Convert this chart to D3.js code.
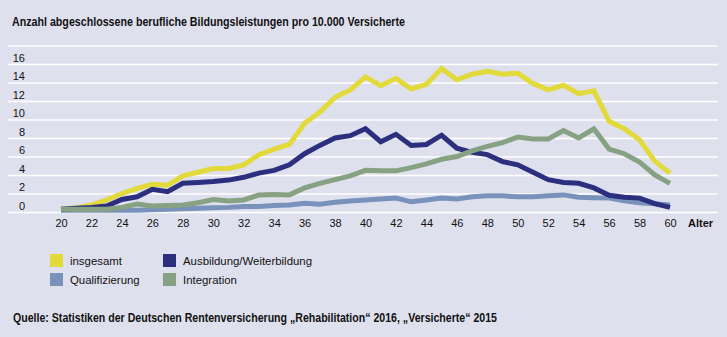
<!DOCTYPE html>
<html>
<head>
<meta charset="utf-8">
<script src="https://cdn.jsdelivr.net/npm/d3@7"></script>
<style>
  html, body { margin: 0; padding: 0; background: #dfe0ee; }
  svg { display: block; }
</style>
</head>
<body>
<div class="chart"></div>
<script>
const title = "Anzahl abgeschlossene berufliche Bildungsleistungen pro 10.000 Versicherte";
const source = "Quelle: Statistiken der Deutschen Rentenversicherung \u201eRehabilitation\u201c 2016, \u201eVersicherte\u201c 2015";

const ages = [20, 21, 22, 23, 24, 25, 26, 27, 28, 29, 30, 31, 32, 33, 34, 35, 36, 37, 38, 39, 40,
  41, 42, 43, 44, 45, 46, 47, 48, 49, 50, 51, 52, 53, 54, 55, 56, 57, 58, 59, 60];
const xTicks = [20, 22, 24, 26, 28, 30, 32, 34, 36, 38, 40, 42, 44, 46, 48, 50, 52, 54, 56, 58, 60];
const yTicks = [0, 2, 4, 6, 8, 10, 12, 14, 16, 18];

const insgesamt = [0.3, 0.45, 0.75, 1.3, 2.0, 2.55, 3.0, 2.9, 3.9, 4.3,
  4.7, 4.7, 5.1, 6.2, 6.8, 7.3, 9.6, 10.8, 12.4, 13.2,
  14.6, 13.65, 14.45, 13.3, 13.8, 15.5, 14.3, 14.9, 15.2, 14.9,
  15.0, 13.9, 13.2, 13.7, 12.8, 13.1, 9.8, 9.0, 7.8, 5.5, 4.2];
const ausbildung = [0.3, 0.4, 0.5, 0.65, 1.35, 1.65, 2.45, 2.2, 3.1, 3.2,
  3.3, 3.45, 3.75, 4.2, 4.5, 5.1, 6.3, 7.2, 8.0, 8.25,
  9.0, 7.6, 8.4, 7.2, 7.3, 8.3, 6.9, 6.45, 6.2, 5.45,
  5.1, 4.3, 3.5, 3.2, 3.1, 2.6, 1.8, 1.6, 1.5, 0.9, 0.5];
const qualifizierung = [0.2, 0.2, 0.2, 0.2, 0.2, 0.2, 0.25, 0.3, 0.35, 0.4,
  0.45, 0.5, 0.6, 0.6, 0.7, 0.75, 0.95, 0.85, 1.05, 1.2,
  1.3, 1.4, 1.5, 1.1, 1.3, 1.5, 1.4, 1.65, 1.75, 1.75,
  1.65, 1.65, 1.75, 1.85, 1.6, 1.55, 1.5, 1.2, 1.0, 0.9, 0.75];
const integration = [0.3, 0.3, 0.3, 0.3, 0.5, 0.85, 0.65, 0.7, 0.75, 1.0,
  1.35, 1.2, 1.3, 1.85, 1.9, 1.85, 2.6, 3.1, 3.5, 3.9,
  4.5, 4.45, 4.45, 4.8, 5.2, 5.7, 6.0, 6.6, 7.1, 7.5,
  8.1, 7.9, 7.9, 8.8, 8.0, 9.0, 6.8, 6.3, 5.4, 4.0, 3.1];

// drawing order: last one ends up on top
const series = [
  { name: "insgesamt", values: insgesamt, color: "#e2d93a" },
  { name: "Qualifizierung", values: qualifizierung, color: "#7892bb" },
  { name: "Ausbildung/Weiterbildung", values: ausbildung, color: "#2c2f7e" },
  { name: "Integration", values: integration, color: "#87a283" },
];

const legendRows = [
  [series[0], series[2]],
  [series[1], series[3]],
];

const width = 727;
const height = 337;
const bg = "#dfe0ee";
const font = "'Liberation Sans', Arial, sans-serif";
const fontNarrow = "'Liberation Sans Narrow', 'Arial Narrow', 'Liberation Sans', sans-serif";

const x = d3.scaleLinear().domain([20, 60]).range([61, 670]);
const y = d3.scaleLinear().domain([0, 18]).range([212, 45.5]);

const svg = d3.select(".chart").append("svg")
  .attr("width", width)
  .attr("height", height)
  .style("background", bg);

svg.append("text")
  .attr("x", 12)
  .attr("y", 26)
  .attr("font-family", fontNarrow)
  .attr("font-weight", "bold")
  .attr("font-size", 13)
  .attr("textLength", 393)
  .attr("lengthAdjust", "spacingAndGlyphs")
  .attr("fill", "#111")
  .text(title);

// y axis with white gridlines, labels sitting just above each line
const yAxis = d3.axisLeft(y)
  .tickValues(yTicks)
  .tickSize(-(718 - 8))
  .tickFormat((d) => (d === 18 ? "" : d));

const gy = svg.append("g")
  .attr("transform", "translate(718,0)")
  .call(yAxis);
gy.select(".domain").remove();
gy.selectAll(".tick line")
  .attr("x1", 0)
  .attr("x2", -(718 - 8))
  .attr("stroke", "#ffffff")
  .attr("stroke-width", 1.6);
gy.selectAll(".tick text")
  .attr("x", 25 - 718)
  .attr("dy", "-0.25em")
  .attr("text-anchor", "end")
  .attr("font-family", font)
  .attr("font-size", 11)
  .attr("fill", "#111");

const xAxis = d3.axisBottom(x)
  .tickValues(xTicks)
  .tickSize(0)
  .tickPadding(0)
  .tickFormat(d3.format("d"));

const gx = svg.append("g")
  .attr("transform", "translate(0,227)")
  .call(xAxis);
gx.select(".domain").remove();
gx.selectAll(".tick text")
  .attr("dy", 0)
  .attr("y", 0)
  .attr("font-family", font)
  .attr("font-size", 11)
  .attr("fill", "#111");

svg.append("text")
  .attr("x", 688)
  .attr("y", 227)
  .attr("font-family", font)
  .attr("font-weight", "bold")
  .attr("font-size", 11)
  .attr("fill", "#111")
  .text("Alter");

const line = d3.line()
  .x((d, i) => x(ages[i]))
  .y((d) => y(d));

svg.selectAll(".serie")
  .data(series)
  .enter().append("path")
  .attr("class", "serie")
  .attr("d", (s) => line(s.values))
  .attr("fill", "none")
  .attr("stroke", (s) => s.color)
  .attr("stroke-width", 5)
  .attr("stroke-linejoin", "miter")
  .attr("stroke-linecap", "butt");

// legend
const legend = svg.append("g");
legendRows.forEach((row, r) => {
  row.forEach((s, c) => {
    const lx = 50 + c * 113;
    const ly = 254 + r * 19;
    legend.append("rect")
      .attr("x", lx)
      .attr("y", ly)
      .attr("width", 13)
      .attr("height", 13)
      .attr("fill", s.color);
    legend.append("text")
      .attr("x", lx + 20)
      .attr("y", ly + 10.5)
      .attr("font-family", font)
      .attr("font-size", 11.4)
      .attr("fill", "#111")
      .text(s.name);
  });
});

svg.append("text")
  .attr("x", 13)
  .attr("y", 322)
  .attr("font-family", fontNarrow)
  .attr("font-weight", "bold")
  .attr("font-size", 12)
  .attr("textLength", 484)
  .attr("lengthAdjust", "spacingAndGlyphs")
  .attr("fill", "#111")
  .text(source);
</script>
</body>
</html>
